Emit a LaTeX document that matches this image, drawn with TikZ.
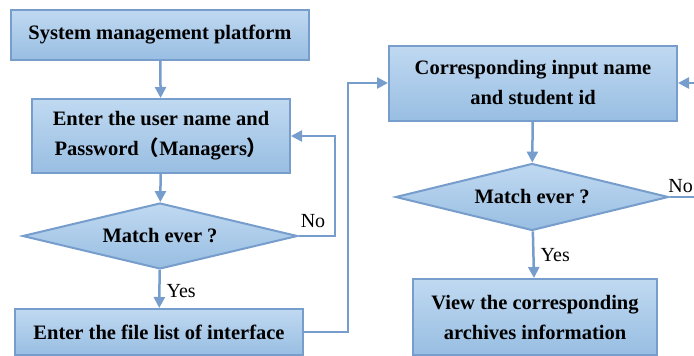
\documentclass[tikz,border=0pt]{standalone}
\usepackage{fontspec}
\setmainfont{Liberation Serif}
\newfontfamily\cjk{Noto Sans CJK SC}
\usetikzlibrary{arrows.meta,shapes.geometric,calc}
\definecolor{edgeblue}{RGB}{118,157,203}
\definecolor{topfill}{RGB}{192,217,241}
\definecolor{botfill}{RGB}{152,190,226}
\tikzset{
  box/.style={draw=edgeblue, line width=2pt, top color=topfill, bottom color=botfill,
    font=\fontsize{20.5}{30}\selectfont\bfseries, align=center, inner sep=0pt},
  decision/.style={diamond, draw=edgeblue, line width=2pt, top color=topfill, bottom color=botfill,
    font=\fontsize{20.5}{30}\selectfont\bfseries, inner sep=0pt, aspect=4.1},
  conn/.style={draw=edgeblue, line width=2.5pt, -{Triangle[width=11pt,length=11pt]}},
  plain/.style={draw=edgeblue, line width=2.5pt},
  lbl/.style={font=\fontsize{20}{22}\selectfont, inner sep=0pt}
}
\begin{document}
\begin{tikzpicture}[x=1pt,y=-1pt]
\useasboundingbox (0,0) rectangle (694,356);
\node[box, minimum width=298pt, minimum height=50pt] (b1) at (160,35) {System management platform};
\node[box, minimum width=258pt, minimum height=74pt] (b2) at (161,136) {Enter the user name and\\Password{\cjk\bfseries （}Managers{\cjk\bfseries ）}};
\node[decision, minimum width=275pt, minimum height=66pt] (d1) at (160,236) {Match ever ?};
\node[box, minimum width=288pt, minimum height=46pt] (b3) at (159,332) {Enter the file list of interface};
\node[box, minimum width=288pt, minimum height=75pt] (b4) at (533,83) {Corresponding input name\\and student id};
\node[decision, minimum width=273pt, minimum height=67pt] (d2) at (532,197) {Match ever ?};
\node[box, minimum width=244pt, minimum height=76pt] (b5) at (535,317) {View the corresponding\\archives information};
\coordinate (n1) at (335,236);
\coordinate (r1) at (348,332);
\coordinate (ein) at (700,83);
\coordinate (eout) at (700,197);
\draw[conn] (b1) -- (b2);
\draw[conn] (b2) -- (d1);
\draw[conn] (d1) -- (b3) node[lbl, pos=0.55, anchor=west, xshift=6pt] {Yes};
\draw[conn] (d1.east) -- (n1) |- (b2.east);
\node[lbl] (no1) at (313,221) {No};
\draw[conn] (b3.east) -- (r1) |- (b4.west);
\draw[conn] (b4) -- (d2);
\draw[conn] (d2) -- (b5) node[lbl, pos=0.5, anchor=west, xshift=6pt] {Yes};
\draw[conn] (ein) -- (b4.east);
\draw[plain] (d2.east) -- (eout);
\node[lbl, anchor=east] (no2) at (693,186) {No};
\end{tikzpicture}
\end{document}
